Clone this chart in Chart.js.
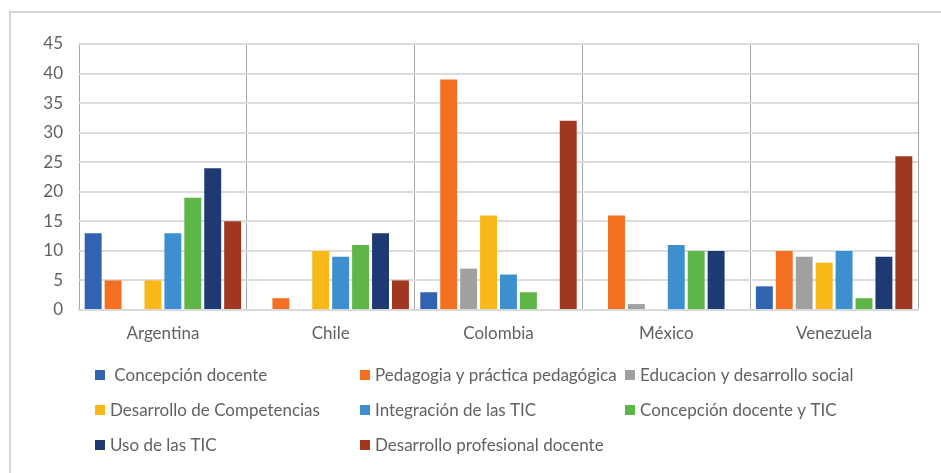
<!DOCTYPE html>
<html>
<head>
<meta charset="utf-8">
<script src="https://cdn.jsdelivr.net/npm/chart.js@4/dist/chart.umd.min.js"></script>
<style>
  html, body { margin: 0; padding: 0; background: #ffffff; }
  body { width: 941px; height: 473px; position: relative; overflow: hidden; }
  #frame { position: absolute; left: 9px; top: 11px; width: 960px; height: 500px;
           border-left: 2px solid #d4d4d4; border-top: 2px solid #d4d4d4; box-sizing: border-box; }
  #wrap { position: absolute; left: 0; top: 0; width: 941px; height: 473px; }
</style>
</head>
<body>
<div id="frame"></div>
<div id="wrap"><canvas id="chart" width="941" height="473"></canvas></div>
<script>
const countries = ['Argentina', 'Chile', 'Colombia', 'México', 'Venezuela'];

const concepcionDocente      = [13, 0, 3, 0, 4];
const pedagogiaPractica      = [5, 2, 39, 16, 10];
const educacionDesarrollo    = [0, 0, 7, 1, 9];
const desarrolloCompetencias = [5, 10, 16, 0, 8];
const integracionTIC         = [13, 9, 6, 11, 10];
const concepcionDocenteTIC   = [19, 11, 3, 10, 2];
const usoTIC                 = [24, 13, 0, 10, 9];
const desarrolloProfesional  = [15, 5, 32, 0, 26];

const seriesNames = [
  ' Concepción docente',
  'Pedagogia y práctica pedagógica',
  'Educacion y desarrollo social',
  'Desarrollo de Competencias',
  'Integración de las TIC',
  'Concepción docente y TIC',
  'Uso de las TIC',
  'Desarrollo profesional docente'
];
const seriesValues = [
  concepcionDocente, pedagogiaPractica, educacionDesarrollo, desarrolloCompetencias,
  integracionTIC, concepcionDocenteTIC, usoTIC, desarrolloProfesional
];
const seriesColors = [
  '#3063b1', '#f37021', '#a0a0a0', '#f8b918',
  '#3d8fd0', '#5db646', '#1d3a72', '#a1371f'
];

const yMax = 45;
const yStep = 5;

const FONT = 'Lato, "Liberation Sans", sans-serif';
const TEXT = '#616161';

// Legend laid out in three columns and three rows under the plot
const legendColumns = [95, 360, 625];
const legendRows = [375, 410, 445];

const legendPlugin = {
  id: 'gridLegend',
  afterDraw(chart) {
    const ctx = chart.ctx;
    ctx.save();
    ctx.font = '17px ' + FONT;
    ctx.textBaseline = 'middle';
    ctx.textAlign = 'left';
    seriesNames.forEach((name, i) => {
      const col = i % 3, row = Math.floor(i / 3);
      const x = legendColumns[col], y = legendRows[row];
      ctx.fillStyle = seriesColors[i];
      ctx.fillRect(x, y - 5, 10, 10);
      ctx.fillStyle = TEXT;
      ctx.fillText(name, x + 15, y + 1);
    });
    ctx.restore();
  }
};

new Chart(document.getElementById('chart'), {
  type: 'bar',
  data: {
    labels: countries,
    datasets: seriesNames.map((name, i) => ({
      label: name,
      data: seriesValues[i],
      backgroundColor: seriesColors[i],
      borderWidth: 0,
      categoryPercentage: 0.95,
      barPercentage: 0.85
    }))
  },
  options: {
    responsive: false,
    animation: false,
    devicePixelRatio: 1,
    layout: { padding: { top: 44, right: 23, bottom: 123, left: 0 } },
    plugins: {
      legend: { display: false },
      tooltip: { enabled: false }
    },
    scales: {
      x: {
        offset: true,
        grid: { display: true, offset: true, color: '#a6a6a6', lineWidth: 1, drawTicks: false },
        border: { display: true, color: '#d9d9d9', width: 2 },
        ticks: { color: TEXT, font: { family: FONT, size: 17 }, padding: 13, maxRotation: 0 },
        afterFit(scale) { scale.height = 40; }
      },
      y: {
        min: 0,
        max: yMax,
        ticks: { stepSize: yStep, color: TEXT, font: { family: FONT, size: 17 }, padding: 16 },
        grid: { color: '#dcdcdc', lineWidth: 2, drawTicks: false },
        border: { display: false },
        afterFit(scale) { scale.width = 79; }
      }
    }
  },
  plugins: [legendPlugin]
});
</script>
</body>
</html>
